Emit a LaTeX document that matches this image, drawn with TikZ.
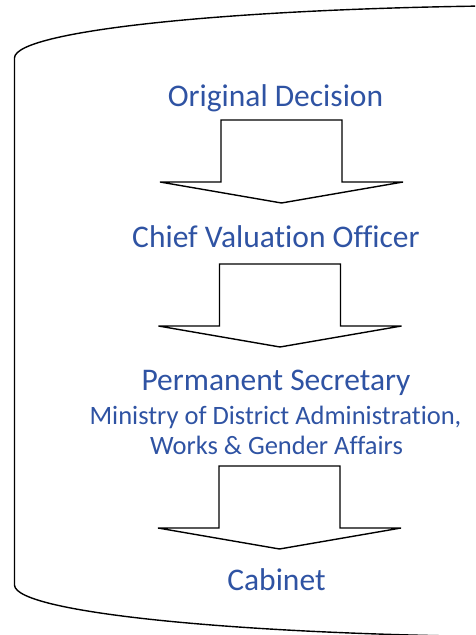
\documentclass[tikz,border=0pt]{standalone}
\usepackage{fontspec}
\setmainfont{Carlito}[Ligatures=NoCommon]
\definecolor{txtblue}{RGB}{47,83,163}
\begin{document}
\begin{tikzpicture}[x=1pt,y=1pt,
  outline/.style={draw=black,line width=1.4pt},
  arrowline/.style={draw=black,line width=1.4pt,fill=white,line join=miter},
  bigtext/.style={text=txtblue,font=\fontsize{31.5}{36}\selectfont,anchor=base,inner sep=0pt},
  smalltext/.style={text=txtblue,font=\fontsize{26.5}{31}\selectfont,anchor=base,inner sep=0pt},
  blockarrow/.pic={\path[arrowline] (-60.5,0) -- (60.5,0) -- (60.5,-62) -- (121.5,-62) -- (0,-83) -- (-121.5,-62) -- (-60.5,-62) -- cycle;}
]
\useasboundingbox (0,0) rectangle (475,635);
\clip (0,0) rectangle (475,635);
% outer shape
\draw[outline] (14.5,577) arc[start angle=180,end angle=90,x radius=546,y radius=52.5]
  (14.5,577) -- (14.5,50)
  arc[start angle=180,end angle=270,x radius=546,y radius=52];
% arrows
\pic at (281.5,515) {blockarrow};
\pic at (280,371) {blockarrow};
\pic at (279.5,169) {blockarrow};
% texts
\node[bigtext] (orig) at (275.5,528) {Original Decision};
\node[bigtext] (cvo) at (276,387) {Chief Valuation Officer};
\node[bigtext] (ps) at (276,244) {Permanent Secretary};
\node[smalltext] (min) at (275.5,210) {Ministry of District Administration,};
\node[smalltext] (works) at (276.5,180) {Works \& Gender Affairs};
\node[bigtext] (cab) at (276.5,45) {Cabinet};
\end{tikzpicture}
\end{document}
